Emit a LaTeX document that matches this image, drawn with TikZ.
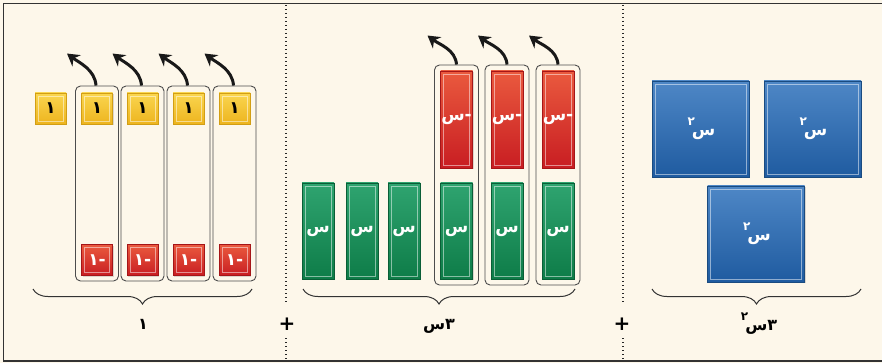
\documentclass[tikz,border=0pt]{standalone}
\usepackage{fontspec}
\TeXXeTstate=1
\newfontfamily\arabicfont[Script=Arabic]{DejaVu Sans}
\usetikzlibrary{shadows,decorations.pathreplacing,arrows.meta}
\definecolor{bg}{HTML}{FDF7EA}
\definecolor{yelT}{HTML}{FAD650}
\definecolor{yelB}{HTML}{EDB41E}
\definecolor{yelD}{HTML}{D29E14}
\definecolor{redT}{HTML}{EA5A3E}
\definecolor{redB}{HTML}{C81D22}
\definecolor{redD}{HTML}{A51518}
\definecolor{grnT}{HTML}{2FA470}
\definecolor{grnB}{HTML}{0E7C48}
\definecolor{grnD}{HTML}{0A5E36}
\definecolor{bluT}{HTML}{4E87C6}
\definecolor{bluB}{HTML}{1F5BA0}
\definecolor{bluD}{HTML}{1A4B80}
\newcommand{\sqx}{\beginR س\kern-3pt\raisebox{10pt}{\fontsize{12}{12}\selectfont ٢}\kern2pt\endR}
\newcommand{\thrsqx}{\beginR ٣س\kern-3pt\raisebox{10pt}{\fontsize{12}{12}\selectfont ٢}\kern2pt\endR}
\begin{document}
\begin{tikzpicture}[x=1pt,y=-1pt,
  tilebase/.style={rectangle, inner sep=0pt, line width=0.8pt,
    font=\arabicfont\bfseries\fontsize{17}{17}\selectfont, text=white,
    drop shadow={opacity=0.28,shadow xshift=1.3pt,shadow yshift=-1.3pt},
    path picture={\draw[white,opacity=0.5,line width=0.7pt]
      ([shift={(3pt,-3pt)}]path picture bounding box.north west) rectangle
      ([shift={(-3pt,3pt)}]path picture bounding box.south east);}},
  yel/.style={tilebase, minimum width=31pt, minimum height=31pt,
    top color=yelT, bottom color=yelB, draw=yelD, text=black},
  redsq/.style={tilebase, minimum width=31pt, minimum height=31pt,
    top color=redT, bottom color=redB, draw=redD},
  redlong/.style={tilebase, minimum width=32pt, minimum height=97pt,
    top color=redT, bottom color=redB, draw=redD},
  grn/.style={tilebase, minimum width=32pt, minimum height=96pt,
    top color=grnT, bottom color=grnB, draw=grnD},
  blu/.style={tilebase, minimum width=97pt, minimum height=96pt,
    top color=bluT, bottom color=bluB, draw=bluD},
  grp/.style={draw=black!70, line width=0.9pt, rounded corners=5pt, fill=bg,
    inner sep=0pt},
  grpA/.style={grp, minimum width=43pt, minimum height=195pt},
  grpB/.style={grp, minimum width=44pt, minimum height=220pt},
  curarrow/.style={line width=3pt, black!90,
    -{Stealth[length=12pt,width=14pt]}},
  dotline/.style={line width=1.3pt, black!85, dash pattern=on 1.3pt off 2.7pt},
  brc/.style={decorate, decoration={brace,mirror,amplitude=15pt},
    line width=1pt, black!80},
  lbl/.style={font=\arabicfont\bfseries\fontsize{16}{16}\selectfont, text=black},
  plus/.style={font=\arabicfont\bfseries\fontsize{20}{20}\selectfont, text=black}
]
\useasboundingbox (0,0) rectangle (882,363);
\fill[bg] (0,0) rectangle (882,363);
\draw[line width=1.6pt, black!80] (3.5,3.5) rectangle (887,361);

% dotted separators
\draw[dotline] (286,5) -- (286,303);
\draw[dotline] (286,338) -- (286,360);
\draw[dotline] (623,5) -- (623,303);
\draw[dotline] (623,338) -- (623,360);
\node[plus] (p1) at (287,324) {+};
\node[plus] (p2) at (622,324) {+};

% ---------- section 1 ----------
\node[grpA] (g1) at (97,183.5) {};
\node[grpA] (g2) at (142.5,183.5) {};
\node[grpA] (g3) at (188.5,183.5) {};
\node[grpA] (g4) at (234.5,183.5) {};
\node[yel] (y0) at (50.5,108.5) {١};
\node[yel] (y1) at (97,108.5) {١};
\node[yel] (y2) at (142.5,108.5) {١};
\node[yel] (y3) at (188.5,108.5) {١};
\node[yel] (y4) at (234.5,108.5) {١};
\node[redsq] (r1) at (97,260) {\beginR -١\endR};
\node[redsq] (r2) at (142.5,260) {\beginR -١\endR};
\node[redsq] (r3) at (188.5,260) {\beginR -١\endR};
\node[redsq] (r4) at (234.5,260) {\beginR -١\endR};
\foreach \g in {g1,g2,g3,g4}{
  \coordinate (t\g) at ([shift={(-30,-32)}]\g.north);
  \draw[curarrow] ([xshift=-1pt]\g.north) .. controls +(-1,-16) and +(12,9) .. (t\g);
}
\coordinate (b1a) at (33,289);
\coordinate (b1b) at (252,289);
\draw[brc] (b1a) -- (b1b);
\node[lbl] (l1) at (143,324) {١};

% ---------- section 2 ----------
\node[grpB] (h1) at (456.5,175) {};
\node[grpB] (h2) at (507,175) {};
\node[grpB] (h3) at (558,175) {};
\node[grn] (x1) at (318,231) {س};
\node[grn] (x2) at (362,231) {س};
\node[grn] (x3) at (404,231) {س};
\node[grn] (x4) at (456.5,231) {س};
\node[grn] (x5) at (507,231) {س};
\node[grn] (x6) at (558,231) {س};
\node[redlong] (n1) at (456.5,119.5) {\beginR -س\endR};
\node[redlong] (n2) at (507,119.5) {\beginR -س\endR};
\node[redlong] (n3) at (558,119.5) {\beginR -س\endR};
\foreach \g in {h1,h2,h3}{
  \coordinate (t\g) at ([shift={(-29,-29)}]\g.north);
  \draw[curarrow] ([xshift=0pt]\g.north) .. controls +(-1,-15) and +(12,9) .. (t\g);
}
\coordinate (b2a) at (303,289);
\coordinate (b2b) at (575,289);
\draw[brc] (b2a) -- (b2b);
\node[lbl] (l2) at (439,326) {\beginR ٣س\endR};

% ---------- section 3 ----------
\node[blu] (s1) at (700.5,129) {\sqx};
\node[blu] (s2) at (812.5,129) {\sqx};
\node[blu] (s3) at (756,234) {\sqx};
\coordinate (b3a) at (652,289);
\coordinate (b3b) at (861,289);
\draw[brc] (b3a) -- (b3b);
\node[lbl] (l3) at (758,324) {\thrsqx};
\end{tikzpicture}
\end{document}
